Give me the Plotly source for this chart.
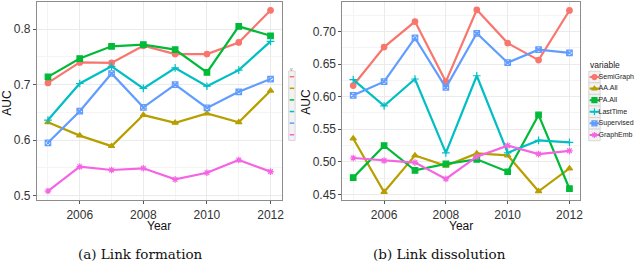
import plotly.graph_objects as go

years = [2005, 2006, 2007, 2008, 2009, 2010, 2011, 2012]
series = ["SemiGraph", "AA.All", "PA.All", "LastTime", "Supervised", "GraphEmb"]
colors = ["#F8766D", "#B79F00", "#00BA38", "#00BFC4", "#619CFF", "#F564E3"]
symbols = ["circle", "triangle-up", "square", "cross-thin-open", "square-x-open", "asterisk-open"]

formation = {
    "SemiGraph":  [0.703, 0.740, 0.739, 0.770, 0.755, 0.755, 0.776, 0.834],
    "AA.All":     [0.632, 0.608, 0.589, 0.645, 0.631, 0.648, 0.632, 0.689],
    "PA.All":     [0.714, 0.747, 0.769, 0.772, 0.763, 0.722, 0.805, 0.788],
    "LastTime":   [0.636, 0.702, 0.733, 0.693, 0.730, 0.697, 0.726, 0.778],
    "Supervised": [0.595, 0.652, 0.720, 0.659, 0.700, 0.658, 0.687, 0.710],
    "GraphEmb":   [0.508, 0.552, 0.546, 0.549, 0.529, 0.541, 0.564, 0.543],
}
dissolution = {
    "SemiGraph":  [0.617, 0.676, 0.715, 0.623, 0.733, 0.682, 0.656, 0.732],
    "AA.All":     [0.536, 0.454, 0.510, 0.494, 0.513, 0.510, 0.455, 0.490],
    "PA.All":     [0.476, 0.525, 0.487, 0.497, 0.504, 0.485, 0.572, 0.459],
    "LastTime":   [0.626, 0.586, 0.627, 0.514, 0.632, 0.514, 0.533, 0.530],
    "Supervised": [0.602, 0.623, 0.690, 0.614, 0.697, 0.652, 0.672, 0.667],
    "GraphEmb":   [0.506, 0.502, 0.499, 0.474, 0.508, 0.525, 0.512, 0.517],
}
y_title = "AUC"
x_title = "Year"
legend_title = "variable"
captions = ["(a) Link formation", "(b) Link dissolution"]

W, H = 640, 263
def px(x):
    return x / W
def py(y):
    return 1 - y / H

fig = go.Figure()
for data, xa, ya in [(formation, "x", "y"), (dissolution, "x2", "y2")]:
    for name, col, sym in zip(series, colors, symbols):
        fig.add_trace(go.Scatter(
            x=years, y=data[name], mode="lines+markers", name=name,
            line=dict(color=col, width=2.2),
            marker=dict(symbol=sym, size=5.5, color=col, line=dict(color=col, width=1.2)),
            xaxis=xa, yaxis=ya, showlegend=False, cliponaxis=False))

# legend keys drawn on a hidden helper axis
n = len(series)
for i, (name, col, sym) in enumerate(zip(series, colors, symbols)):
    fig.add_trace(go.Scatter(
        x=[0.08, 0.92], y=[i, i], mode="lines", line=dict(color=col, width=2),
        xaxis="x3", yaxis="y3", showlegend=False, hoverinfo="skip"))
    fig.add_trace(go.Scatter(
        x=[0.5], y=[i], mode="markers+text", text=[name], textposition="middle right",
        textfont=dict(family="Liberation Sans", size=7, color="#222"),
        marker=dict(symbol=sym, size=5, color=col, line=dict(color=col, width=1.2)),
        xaxis="x3", yaxis="y3", showlegend=False, hoverinfo="skip", cliponaxis=False))

tickfont = dict(family="Liberation Sans", size=12, color="#333")
grid_major = "#EBEBEB"
grid_minor = "#F4F4F4"
border = "#8C8C8C"

def xaxis(dom):
    return dict(domain=dom, range=[2004.65, 2012.35], tick0=2006, dtick=2,
                ticks="outside", ticklen=3, tickcolor="#555", tickfont=tickfont,
                showgrid=True, gridcolor=grid_major, gridwidth=1,
                minor=dict(dtick=1, tick0=2005, showgrid=True, gridcolor=grid_minor, ticks=""),
                showline=True, linecolor=border, linewidth=1, mirror=True, zeroline=False)

def yaxis(dom, rng, dt, fmt, anchor):
    return dict(domain=dom, range=rng, dtick=dt, tick0=0, tickformat=fmt, anchor=anchor,
                ticks="outside", ticklen=3, tickcolor="#555", tickfont=tickfont,
                showgrid=True, gridcolor=grid_major, gridwidth=1,
                minor=dict(dtick=dt / 2, showgrid=True, gridcolor=grid_minor, ticks=""),
                showline=True, linecolor=border, linewidth=1, mirror=True, zeroline=False)

ydom = [py(202), py(2)]
fig.update_layout(
    width=W, height=H, margin=dict(l=0, r=0, t=0, b=0),
    paper_bgcolor="white", plot_bgcolor="white", showlegend=False,
    xaxis=dict(xaxis([px(37), px(283)]), anchor="y"),
    yaxis=yaxis(ydom, [0.491, 0.849], 0.1, ".1f", "x"),
    xaxis2=dict(xaxis([px(344), px(583)]), anchor="y2"),
    yaxis2=yaxis(ydom, [0.441, 0.745], 0.05, ".2f", "x2"),
    xaxis3=dict(domain=[px(591.5), px(603)], range=[0, 1], visible=False, anchor="y3"),
    yaxis3=dict(domain=[py(141.8), py(71.8)], range=[n - 0.5, -0.5], visible=False, anchor="x3"),
)

# legend key boxes
for i in range(n):
    top = 71.8 + i * 70 / n
    fig.add_shape(type="rect", xref="paper", yref="paper",
                  x0=px(591.5), x1=px(603), y0=py(top + 70 / n), y1=py(top),
                  fillcolor="#F2F2F2", line=dict(color="#D0D0D0", width=0.8), layer="below")
fig.add_annotation(x=px(591), y=py(65), xref="paper", yref="paper", text=legend_title,
                   showarrow=False, xanchor="left", yanchor="middle",
                   font=dict(family="Liberation Sans", size=8.5, color="#222"))

# clipped legend remnant of the left figure
fig.add_shape(type="rect", xref="paper", yref="paper",
              x0=px(290), x1=px(296.5), y0=py(141.5), y1=py(71.5),
              fillcolor="#F2F2F2", line=dict(color="#D0D0D0", width=0.8))
for i, col in enumerate(colors):
    yy = 77.3 + i * 11.7
    fig.add_shape(type="line", xref="paper", yref="paper",
                  x0=px(291), x1=px(295.5), y0=py(yy), y1=py(yy),
                  line=dict(color=col, width=1.5))
fig.add_annotation(x=px(293), y=py(64), xref="paper", yref="paper", text="v",
                   showarrow=False, font=dict(family="Liberation Sans", size=5, color="#777"))

# axis titles
for xc in [7.5, 308]:
    fig.add_annotation(x=px(xc), y=py(103), xref="paper", yref="paper", text=y_title,
                       textangle=-90, showarrow=False, xanchor="center", yanchor="middle",
                       font=dict(family="Liberation Sans", size=12, color="#111"))
for xc in [160, 463.5]:
    fig.add_annotation(x=px(xc), y=py(227.5), xref="paper", yref="paper", text=x_title,
                       showarrow=False, xanchor="center", yanchor="middle",
                       font=dict(family="Liberation Sans", size=12, color="#111"))
for xc, cap in zip([141, 441.5], captions):
    fig.add_annotation(x=px(xc), y=py(255.5), xref="paper", yref="paper", text=cap,
                       showarrow=False, xanchor="center", yanchor="middle",
                       font=dict(family="DejaVu Serif", size=13.5, color="#111"))

fig.write_html("out.html", config={"displayModeBar": False},
               post_script="document.body.style.margin='0px';")
